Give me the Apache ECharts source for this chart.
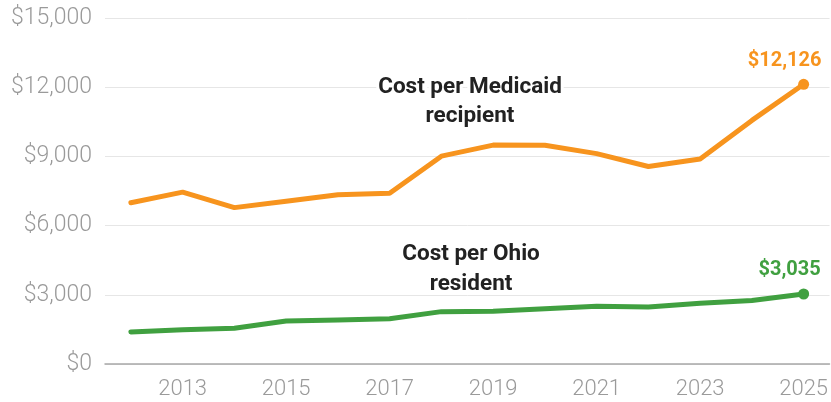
<!DOCTYPE html>
<html>
<head>
<meta charset="utf-8">
<script src="https://cdn.jsdelivr.net/npm/echarts@6/dist/echarts.min.js"></script>
<style>
html,body{margin:0;padding:0;background:#fff;}
#chart{width:831px;height:402px;}
</style>
</head>
<body>
<div id="chart"></div>
<script>
const years = ['2012','2013','2014','2015','2016','2017','2018','2019','2020','2021','2022','2023','2024','2025'];
const medicaidCost = [6990, 7450, 6780, 7060, 7340, 7400, 9010, 9490, 9480, 9120, 8560, 8890, 10560, 12126];
const ohioCost = [1390, 1490, 1550, 1860, 1910, 1960, 2270, 2290, 2400, 2500, 2470, 2630, 2750, 3035];
const yTicks = [0, 3000, 6000, 9000, 12000, 15000];
const medicaidLabel = 'Cost per Medicaid\nrecipient';
const ohioLabel = 'Cost per Ohio\nresident';

const ORANGE = '#F7941E';
const GREEN = '#40A040';

const fmt = v => '$' + v.toLocaleString('en-US');

const chart = echarts.init(document.getElementById('chart'), null, {renderer: 'canvas'});

function endLabel(color, offset) {
  return {
    show: true,
    position: 'top',
    offset: offset,
    color: color,
    fontWeight: 'bold',
    fontSize: 20,
    fontFamily: 'Roboto, sans-serif',
    distance: 8,
    formatter: p => p.dataIndex === years.length - 1 ? fmt(p.value) : ''
  };
}

function seriesData(arr) {
  return arr.map((v, i) => ({
    value: v,
    symbol: i === arr.length - 1 ? 'circle' : 'none',
    symbolSize: 11
  }));
}

chart.setOption({
  animation: false,
  grid: {left: 105, right: 0, top: 18, bottom: 38, containLabel: false},
  xAxis: {
    type: 'category',
    data: years,
    boundaryGap: true,
    axisLine: {show: true, lineStyle: {color: '#a8a8a8', width: 1.5}},
    axisTick: {show: false},
    splitLine: {show: false},
    axisLabel: {
      interval: (i) => i % 2 === 1,
      color: '#9a9a9a',
      fontSize: 22,
      fontWeight: 300,
      fontFamily: 'Roboto, sans-serif',
      margin: 14
    }
  },
  yAxis: {
    type: 'value',
    min: yTicks[0],
    max: yTicks[yTicks.length - 1],
    interval: 3000,
    axisLine: {show: false},
    axisTick: {show: false},
    splitLine: {lineStyle: {color: '#e6e6e6', width: 1}},
    axisLabel: {
      formatter: v => fmt(v),
      color: '#9a9a9a',
      fontSize: 23,
      fontWeight: 300,
      fontFamily: 'Roboto, sans-serif',
      margin: 13
    }
  },
  series: [
    {
      type: 'line',
      data: seriesData(medicaidCost),
      showSymbol: true,
      lineStyle: {color: ORANGE, width: 5, cap: 'round', join: 'round'},
      itemStyle: {color: ORANGE},
      label: endLabel(ORANGE, [-19, 0]),
      z: 3
    },
    {
      type: 'line',
      data: seriesData(ohioCost),
      showSymbol: true,
      lineStyle: {color: GREEN, width: 5, cap: 'round', join: 'round'},
      itemStyle: {color: GREEN},
      label: endLabel(GREEN, [-14, 0]),
      z: 3
    }
  ],
  graphic: [
    {
      type: 'text',
      x: 470, y: 73,
      z: 10,
      style: {
        text: medicaidLabel,
        align: 'center',
        verticalAlign: 'top',
        fill: '#222222',
        font: 'bold 22.5px Roboto, sans-serif',
        lineHeight: 29,
        stroke: '#ffffff',
        lineWidth: 6
      }
    },
    {
      type: 'text',
      x: 471, y: 239,
      z: 10,
      style: {
        text: ohioLabel,
        align: 'center',
        verticalAlign: 'top',
        fill: '#222222',
        font: 'bold 22.5px Roboto, sans-serif',
        lineHeight: 30,
        stroke: '#ffffff',
        lineWidth: 6
      }
    }
  ]
});
</script>
</body>
</html>
